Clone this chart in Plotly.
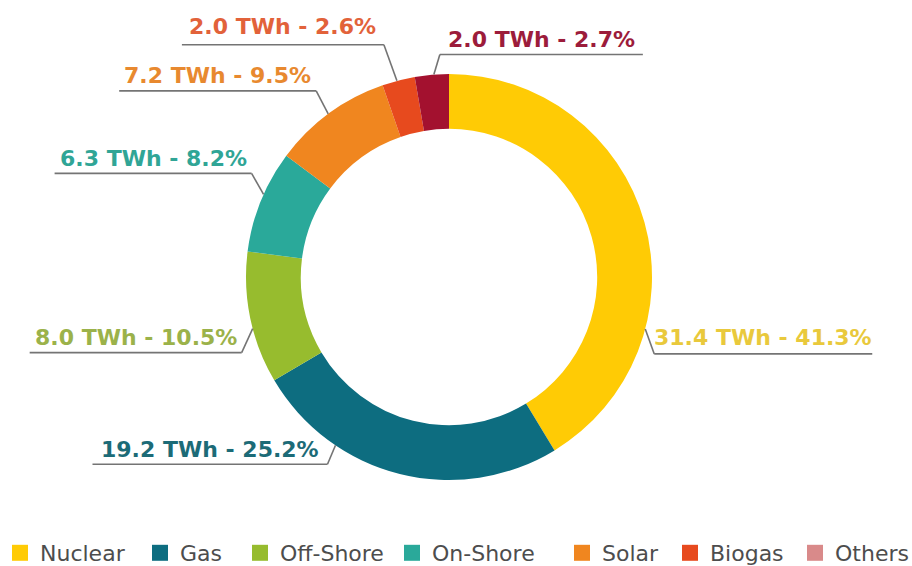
import math
import plotly.graph_objects as go

# ---------------- data ----------------
categories = ["Nuclear", "Gas", "Off-Shore", "On-Shore", "Solar", "Biogas", "Others"]
energy_twh = [31.4, 19.2, 8.0, 6.3, 7.2, 2.0, 2.0]
share_pct = [41.3, 25.2, 10.5, 8.2, 9.5, 2.6, 2.7]

slice_colors = ["#FFCB05", "#0D6D80", "#97BC2E", "#2AA99A", "#F0861F", "#E74A1E", "#A3112F"]
legend_colors = ["#FFCB05", "#0D6D80", "#97BC2E", "#2AA99A", "#F0861F", "#E74A1E", "#D98A8A"]
label_colors = ["#E9C93C", "#1C6B77", "#9BB24A", "#30A596", "#E8892F", "#E2623A", "#9C1C3B"]

# ---------------- layout parameters ----------------
W, H = 912, 566
BOTTOM = 40                 # bottom margin reserved for the legend
PH = H - BOTTOM             # plot-area height
CX, CY, R = 449, 277, 203
HOLE = 0.73

label_frac = [0.705, 0.72, 0.42, 0.57, 0.49, 0.45, 0.56]      # where in slice leader starts
elbow_off = [(9, 25), (-8, 19), (-11, 24), (-12, -21), (-12, -23), (-13, -36), (6, -20)]
underline_len = [218, 235, 212, 197, 197, 202, 203]
underline_dir = [1, -1, -1, -1, -1, -1, 1]
text_gap = [16, 15, 15, 15, 15, 18, 15]

legend_text_x = [37, 180, 280, 432, 602, 710, 835]   # px where each legend entry's text starts
legend_y = 553

fig = go.Figure()

fig.add_trace(go.Pie(
    labels=categories,
    values=share_pct,
    sort=False,
    direction="clockwise",
    rotation=0,
    hole=HOLE,
    textinfo="none",
    hoverinfo="label+value",
    marker=dict(colors=slice_colors, line=dict(color="white", width=0)),
    showlegend=False,
    domain=dict(x=[(CX - R) / W, (CX + R) / W],
                y=[(PH - CY - R) / PH, (PH - CY + R) / PH]),
))

# legend entries, one legend each so they can be spaced like the original
legends = {}
for i, (name, col) in enumerate(zip(categories, legend_colors)):
    key = "legend" if i == 0 else f"legend{i + 1}"
    fig.add_trace(go.Scatter(
        x=[None], y=[None], mode="markers", name=name,
        marker=dict(symbol="square", size=16, color=col),
        hoverinfo="skip", legend=key,
    ))
    legends[key] = dict(
        orientation="h", xref="container", yref="container",
        x=(legend_text_x[i] - 40) / W, xanchor="left",
        y=1 - legend_y / H, yanchor="middle",
        font=dict(family="DejaVu Sans", size=22, color="#4d4d4d"),
        itemwidth=30, bgcolor="rgba(0,0,0,0)",
    )

# leader lines and labels computed from data
total = sum(share_pct)
cum = 0.0
shapes = []
annotations = []
for i, v in enumerate(share_pct):
    start = cum / total * 360
    end = (cum + v) / total * 360
    cum += v
    ang = math.radians(start + label_frac[i] * (end - start))
    ax = CX + R * math.sin(ang)
    ay = CY - R * math.cos(ang)
    ex = ax + elbow_off[i][0]
    ey = ay + elbow_off[i][1]
    ux = ex + underline_dir[i] * underline_len[i]
    shapes.append(dict(type="line", xref="x", yref="y", x0=ax, y0=ay, x1=ex, y1=ey,
                       line=dict(color="#747474", width=1.6), layer="above"))
    shapes.append(dict(type="line", xref="x", yref="y", x0=ex, y0=ey, x1=ux, y1=ey,
                       line=dict(color="#747474", width=1.6), layer="above"))
    annotations.append(dict(
        x=(ex + ux) / 2, y=ey - text_gap[i], xref="x", yref="y",
        text=f"{energy_twh[i]:.1f} TWh - {share_pct[i]:.1f}%",
        showarrow=False, xanchor="center", yanchor="middle",
        font=dict(family="DejaVu Sans", size=22, color=label_colors[i], weight="bold"),
    ))

fig.update_layout(
    width=W, height=H,
    margin=dict(l=0, r=0, t=0, b=BOTTOM),
    paper_bgcolor="white", plot_bgcolor="white",
    xaxis=dict(range=[0, W], visible=False, fixedrange=True, domain=[0, 1]),
    yaxis=dict(range=[PH, 0], visible=False, fixedrange=True, domain=[0, 1]),
    shapes=shapes,
    annotations=annotations,
    showlegend=True,
    **legends,
)

fig.write_html("out.html", config={"displayModeBar": False},
               post_script="document.body.style.margin='0px';document.body.style.overflow='hidden';")
